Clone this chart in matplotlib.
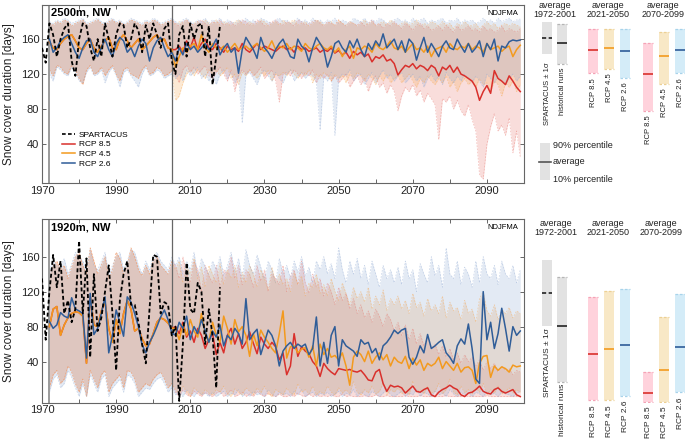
import numpy as np
import matplotlib
matplotlib.use('Agg')
import matplotlib.pyplot as plt
from matplotlib.lines import Line2D

plt.rcParams['font.family'] = ['Liberation Sans', 'DejaVu Sans']

years_obs = np.arange(1970, 2019)
years_sc = np.arange(1972, 2100)   # historical runs 1972-2005, RCP runs 2006-2099

# ---------------- 2500m, NW ----------------
spart_top = [150,133,178,165,140,160,172,178,135,118,160,178,175,150,135,160,140,178,160,140,
             165,178,176,150,160,178,170,145,176,160,178,165,150,172,178,135,120,165,175,140,
             178,160,175,178,140,175,108,140,175]

hist_mean_top = [157,150,148,155,160,163,165,158,150,148,155,160,150,145,152,158,162,150,148,160,
                 165,158,150,155,160,148,152,157,162,165,158,160,150,148]
hist_lo_top = [125,118,130,128,122,120,130,125,115,108,125,130,120,122,128,118,125,130,120,112,
               125,128,120,118,115,125,130,120,122,128,125,118,120,124]
hist_hi_top = [178,176,180,178,182,180,175,178,180,182,176,178,180,182,178,175,180,182,178,180,
               176,178,182,180,178,175,180,178,182,180,176,178,180,182]
blue_hist_mean_top = [160,145,150,158,162,165,155,145,138,150,158,160,145,140,150,160,148,140,155,162,
                      158,145,150,140,152,160,155,135,150,158,162,150,140,145]
blue_hist_lo_top = [120,112,128,125,120,118,128,122,112,110,122,128,118,120,125,110,122,128,118,105,
                    122,125,118,112,105,120,128,118,120,125,122,115,118,120]
blue_hist_hi_top = [180,178,182,180,184,182,178,180,182,184,178,180,182,184,180,178,182,184,180,182,
                    178,180,184,182,180,178,182,180,184,182,178,180,182,184]

rcp85_top = [148,152,145,158,150,162,148,155,160,150, 148,155,150,145,152,148,150,146,155,148,
             145,150,155,148,152,150,148,146,150,152, 148,150,145,152,148,150,146,148,150,145,
             148,146,150,144,147,142,145,138,146,142, 145,140,143,134,140,138,142,135,137,132,
             119,125,130,128,132,126,130,128,124,130, 127,118,128,125,130,122,128,120,118,115,
             112,105,90,100,107,98,124,115,112,108, 118,112,105,100]
rcp85_lo_top = [118,110,125,130,122,128,120,125,130,118, 115,122,128,120,112,125,100,118,125,120,
                125,118,122,128,115,120,125,112,88,120, 122,118,125,120,115,122,118,125,110,120,
                115,120,112,118,110,115,120,105,112,118, 108,115,100,112,118,105,110,98,108,100,
                78,95,105,100,108,95,102,88,98,92, 85,45,92,88,95,80,90,78,72,85,
                68,55,5,0,40,60,75,55,62,50, 70,30,55,25]
rcp85_hi_top = [178,175,180,182,178,176,180,182,178,175, 180,178,182,176,178,180,175,178,182,180,
                176,178,182,180,175,178,180,182,178,176, 180,178,175,182,180,176,178,180,182,178,
                175,180,178,176,182,178,175,180,178,176, 180,175,178,182,176,178,172,178,175,180,
                176,172,178,175,170,176,178,172,175,170, 172,175,170,176,172,168,175,170,172,175,
                170,172,168,175,170,172,168,170,175,168, 172,170,168,172]

rcp45_top = [128,140,150,145,152,155,148,165,150,145, 155,150,148,152,145,150,155,148,150,152,
             148,152,155,150,146,150,158,148,152,150, 155,148,152,150,146,155,150,148,152,155,
             150,148,152,145,150,140,148,152,138,150, 148,152,150,145,155,150,148,152,158,150,
             148,152,145,150,155,148,150,145,152,140, 148,150,152,145,155,150,148,152,150,155,
             148,152,150,145,155,148,150,152,146,150, 152,140,148,153]
rcp45_lo_top = [90,95,110,120,125,118,125,120,115,125, 120,125,118,122,128,115,120,108,122,118,
                125,120,115,122,118,125,112,120,118,122, 118,125,120,115,122,118,125,110,120,115,
                122,118,112,120,115,118,110,120,115,122, 118,112,120,115,108,118,112,120,110,115,
                118,110,115,120,112,105,115,110,118,112, 108,115,110,118,105,112,100,110,115,108,
                112,105,115,108,110,100,112,108,95,110, 105,112,100,108]
rcp45_hi_top = [176,180,178,182,175,178,180,176,182,178, 178,182,176,180,178,175,180,182,178,176,
                180,176,178,182,180,175,178,180,176,182, 178,180,182,176,178,180,175,178,182,180,
                176,178,180,175,182,178,176,180,178,175, 178,182,176,180,175,178,180,176,182,178,
                175,178,180,176,178,182,175,178,176,180, 178,175,180,176,178,172,178,175,180,176,
                175,178,172,176,180,175,178,172,176,178, 175,178,176,174]

rcp26_top = [135,150,142,155,148,152,145,150,155,148, 152,160,142,150,155,145,150,121,148,162,
             155,148,138,162,150,145,138,148,155,160, 150,140,138,160,152,148,134,150,162,155,
             148,128,140,155,158,150,145,158,150,160, 148,140,155,148,158,152,166,150,155,160,
             148,158,145,160,155,136,150,162,145,155, 148,140,152,158,150,148,160,152,145,155,
             145,150,158,140,155,148,160,135,152,150, 157,159,158,159]
rcp26_lo_top = [115,120,112,125,118,122,128,115,120,112, 118,108,120,125,115,122,110,118,64,120,
                122,115,108,120,125,118,112,122,115,110, 120,125,112,118,122,115,120,118,110,56,
                118,112,122,50,115,120,118,125,112,118, 120,108,115,122,110,118,125,115,120,112,
                118,122,110,115,120,112,118,105,115,120, 112,118,108,122,115,110,118,112,120,115,
                110,118,112,105,120,115,110,118,112,108, 115,120,112,118]
rcp26_hi_top = [180,178,182,184,180,178,182,180,184,178, 182,180,184,178,182,180,178,182,180,184,
                180,182,178,184,182,180,178,182,184,180, 182,178,180,184,180,182,178,184,180,182,
                178,182,180,184,178,182,180,178,184,182, 180,184,178,182,180,184,182,178,180,182,
                184,180,182,178,184,180,182,184,178,182, 180,182,184,178,182,180,184,178,182,180,
                182,178,180,184,180,182,178,184,180,182, 184,180,182,183]

# ---------------- 1920m, NW ----------------
spart_bot = [135,65,120,162,125,155,95,110,85,100,178,95,158,45,140,75,90,120,150,95,
             30,110,140,155,105,105,85,60,38,100,162,160,95,108,105,70,80,-5,60,153,
             100,95,130,120,60,100,70,10,125]

hist_mean_bot = [80,100,103,70,82,90,95,97,96,92,38,115,82,80,98,108,78,62,88,72,
                 95,110,100,75,78,66,58,60,72,85,90,88,84,78]
hist_lo_bot = [10,25,30,15,20,35,28,15,5,20,0,30,20,10,25,30,5,15,20,25,
               10,30,28,20,5,10,15,12,20,25,28,20,10,15]
hist_hi_bot = [140,150,155,145,150,135,148,160,165,150,140,170,155,140,150,160,135,145,165,158,
               140,150,170,160,145,138,150,140,155,160,150,145,140,155]
blue_hist_mean_bot = [86,78,82,96,92,90,113,100,98,95,44,118,71,78,95,114,50,70,99,85,
                      69,114,108,95,80,59,50,62,70,80,91,99,88,73]
blue_hist_lo_bot = [5,20,25,10,15,30,22,10,0,15,0,25,15,5,20,25,0,10,15,20,
                    5,25,22,15,0,5,10,8,15,20,22,15,5,10]
blue_hist_hi_bot = [145,155,150,150,158,140,152,165,160,155,145,168,150,145,155,165,140,150,160,165,
                    145,155,168,165,150,140,155,145,160,165,155,150,145,160]

rcp85_bot = [80,72,85,68,75,62,78,70,55,65, 72,48,62,50,70,78,60,72,55,62,
             74,61,49,68,60,55,62,57,42,50, 25,35,72,46,57,52,49,40,35,23,
             38,32,28,25,32,31,30,31,29,28, 30,25,19,18,28,31,15,6,13,11,
             12,10,4,8,12,6,5,8,10,2, 0,5,8,10,13,10,8,2,0,4,
             5,8,12,6,4,3,8,10,6,4, 6,8,2,0]
rcp85_lo_bot = [5,0,8,2,0,6,3,0,5,2, 0,4,6,0,3,8,0,2,5,0,
                3,0,6,2,0,4,1,0,3,0, 0,2,0,4,1,0,3,0,2,0,
                1,0,2,0,0,3,0,1,0,0, 0,1,0,0,2,0,0,1,0,0,
                0,0,1,0,0,0,1,0,0,0, 0,0,0,1,0,0,0,0,1,0,
                0,0,0,0,1,0,0,0,0,0, 0,0,0,0]
rcp85_hi_bot = [150,135,160,140,130,155,145,120,150,138, 130,150,125,145,140,160,135,150,128,145,
                140,125,150,132,145,120,140,135,128,150, 120,138,145,128,155,130,118,140,125,135,
                115,130,120,105,125,110,118,100,112,95, 105,90,98,85,100,92,80,95,88,75,
                85,70,82,65,78,60,72,58,68,55, 60,48,58,45,55,42,50,38,48,40,
                45,35,42,30,40,32,38,28,35,30, 32,25,30,28]

rcp45_bot = [78,65,82,70,88,75,68,95,72,62, 85,70,62,92,78,60,88,74,80,70,
             46,72,58,76,68,62,55,50,72,98, 44,57,58,50,54,56,45,58,35,60,
             48,55,45,47,42,50,35,13,45,52, 48,40,52,38,45,50,42,48,35,45,
             40,38,46,32,44,36,42,30,38,35, 38,45,32,40,35,30,38,28,33,34,
             30,15,38,46,47,22,35,30,34,32, 28,36,34,35]
rcp45_lo_bot = [8,3,12,5,0,10,6,2,8,4, 2,8,5,12,3,0,9,5,2,10,
                6,2,10,4,12,3,0,8,5,2, 10,4,2,15,5,8,3,12,2,6,
                3,12,5,2,10,4,8,3,18,5, 2,8,4,12,3,6,15,2,8,5,
                10,3,6,2,18,5,8,3,12,4, 6,15,3,8,20,5,2,12,4,8,
                3,10,5,15,2,8,4,12,3,6, 10,4,8,5]
rcp45_hi_bot = [145,155,130,150,140,158,135,148,125,150, 140,130,152,128,145,135,150,125,142,130,
                150,140,125,145,135,122,148,130,140,128, 135,120,142,128,138,115,130,125,140,118,
                128,115,135,120,110,130,118,105,125,112, 120,108,125,100,115,105,122,98,112,105,
                115,100,110,95,118,102,108,92,112,98, 105,95,115,90,108,98,102,88,110,95,
                100,85,112,120,98,92,105,88,100,95, 102,90,98,95]

rcp26_bot = [70,85,78,92,65,80,72,88,75,62, 75,68,82,58,70,65,78,72,60,112,
             65,72,77,48,62,76,70,58,35,52, 58,62,55,60,57,60,48,55,91,35,
             62,38,70,80,35,65,58,55,52,46, 65,60,62,50,55,42,58,62,68,76,
             72,76,78,45,37,45,58,50,71,55, 58,62,65,50,45,38,58,66,60,83,
             55,20,15,120,65,85,55,72,101,78, 52,80,70,75]
rcp26_lo_bot = [2,5,0,8,3,0,6,2,4,0, 5,0,3,6,0,4,2,8,0,5,
                0,6,2,4,0,8,3,0,5,2, 4,0,6,2,8,0,3,5,0,4,
                2,5,0,3,6,0,4,2,8,0, 5,2,0,6,3,0,4,8,2,0,
                3,6,0,4,2,8,0,5,3,0, 6,2,4,0,8,3,0,5,2,4,
                0,5,3,0,6,2,4,0,5,3, 2,0,4,6]
rcp26_hi_bot = [150,160,140,155,145,165,138,158,148,140, 155,145,160,138,150,165,142,158,135,168,
                150,140,162,148,135,155,145,130,158,140, 150,135,155,142,160,138,148,130,155,145,
                160,140,152,135,170,145,130,155,140,158, 135,150,128,155,140,125,150,135,145,130,
                148,128,155,135,145,120,152,140,130,160, 138,150,125,170,140,135,155,128,148,140,
                125,155,130,160,140,135,150,128,155,140, 135,150,130,145]

# ---------------- period averages (right-hand bars) ----------------
bar_labels = ['SPARTACUS ± 1σ', 'historical runs', 'RCP 8.5', 'RCP 4.5', 'RCP 2.6',
              'RCP 8.5', 'RCP 4.5', 'RCP 2.6']
bars_top_lo = [142.5, 132, 121, 126, 116, 78, 109, 121]
bars_top_mean = [161, 156, 148, 150, 146, 120, 141, 148]
bars_top_hi = [180, 177, 172, 172, 172, 155, 168, 172]
bars_bot_lo = [81, 17, -4, -4, 1, -6, -6, 5]
bars_bot_mean = [119, 81, 48.5, 54.5, 59, 4, 30.5, 57]
bars_bot_hi = [156, 137, 114, 121, 123, 28, 91, 117]
period_titles = ['average\n1972-2001', 'average\n2021-2050', 'average\n2070-2099']

# styles
c_line = {'85': '#d9302c', '45': '#f39a1e', '26': '#2f5d98'}
c_fill = {'85': '#e87a72', '45': '#f7aa55', '26': '#93acd4'}
bar_fill = ['#e2e2e2', '#e2e2e2', '#ffd2dc', '#f8e8c6', '#d4ecf8', '#ffd2dc', '#f8e8c6', '#d4ecf8']
bar_cap = ['none', '#b5b5b5', '#f4a3b6', '#ecd095', '#a8d3ea', '#f4a3b6', '#ecd095', '#a8d3ea']
bar_mean_c = ['#222222', '#222222', '#d9302c', '#f39a1e', '#2f5d98', '#d9302c', '#f39a1e', '#2f5d98']
bar_x = [546.5, 562.3, 593.3, 609, 625.3, 647.7, 664, 680]
W, H = 685, 442

fig = plt.figure(figsize=(6.85, 4.42), dpi=100)


def fpos(x0, y0, x1, y1):
    return [x0 / W, 1 - y1 / H, (x1 - x0) / W, (y1 - y0) / H]


def draw_main(ax, spart, scen, title, ylim, legend=False):
    for key, mean, lo, hi in scen:
        ax.fill_between(years_sc, lo, hi, color=c_fill[key], alpha=0.25, lw=0, zorder=1)
        for edge in (lo, hi):
            ax.plot(years_sc, edge, color=c_fill[key], lw=0.5, ls=(0, (2.5, 2)), alpha=0.5, zorder=1.5)
    ax.axvline(1972, color='#9a9a9a', lw=1.4, zorder=2)
    ax.axvline(2005, color='#666666', lw=0.9, zorder=2)
    handles = [Line2D([], [], color='k', lw=1.2, ls=(0, (2.2, 1.4)))]
    for key, mean, lo, hi in scen:
        h, = ax.plot(years_sc, mean, color=c_line[key], lw=1.1, zorder=3)
        handles.append(h)
    ax.plot(years_obs, spart, color='k', lw=1.3, ls=(0, (2.2, 1.4)), zorder=4)
    ax.set_xlim(1970, 2100)
    ax.set_ylim(*ylim)
    ax.set_xticks(np.arange(1970, 2100, 10))
    ax.set_xticklabels([str(y) if (y - 1970) % 20 == 0 else '' for y in range(1970, 2100, 10)])
    ax.set_yticks([40, 80, 120, 160])
    ax.tick_params(direction='in', length=3, width=0.7, color='#666666', top=True, right=True,
                   labelsize=8, labelcolor='#222222', pad=2)
    for s in ax.spines.values():
        s.set_color('#666666')
        s.set_linewidth(0.8)
    ax.set_ylabel('Snow cover duration [days]', fontsize=8.5, color='#222222', labelpad=4)
    ax.text(0.019, 0.958, title, transform=ax.transAxes, fontsize=8, fontweight='bold',
            va='center', ha='left')
    ax.text(0.988, 0.955, 'NDJFMA', transform=ax.transAxes, fontsize=5.5, va='center', ha='right')
    if legend:
        ax.legend(handles, ['SPARTACUS', 'RCP 8.5', 'RCP 4.5', 'RCP 2.6'], loc='lower left',
                  bbox_to_anchor=(0.03, 0.05), frameon=False, fontsize=6, handlelength=1.5,
                  labelspacing=0.25, handletextpad=0.5, borderpad=0.2)


def draw_bars(ax, lo, mean, hi, ylim, gaps, fs):
    ax.set_xlim(530, 685)
    ax.set_ylim(*ylim)
    ax.axis('off')
    for i in range(len(bar_x)):
        ax.bar(bar_x[i], hi[i] - lo[i], bottom=lo[i], width=10, color=bar_fill[i], lw=0)
        if bar_cap[i] != 'none':
            ax.hlines([lo[i], hi[i]], bar_x[i] - 5, bar_x[i] + 5, colors=bar_cap[i], lw=0.9,
                      linestyles=(0, (2, 1.6)))
        ls = (0, (2.5, 1.5)) if i == 0 else '-'
        ax.hlines(mean[i], bar_x[i] - 5, bar_x[i] + 5, colors=bar_mean_c[i], lw=1.2, linestyles=ls)
        ax.annotate(bar_labels[i], xy=(bar_x[i], lo[i]), xytext=(0.5, -gaps[i]),
                    textcoords='offset points', rotation=90, ha='center', va='top',
                    fontsize=fs, color='#222222', annotation_clip=False)


top_ylim = (-4.5, 199)
bot_ylim = (-7, 202.7)

ax1 = fig.add_axes(fpos(42, 5, 524, 183))
draw_main(ax1, spart_top,
          [('85', hist_mean_top + rcp85_top, hist_lo_top + rcp85_lo_top, hist_hi_top + rcp85_hi_top),
           ('45', hist_mean_top + rcp45_top, hist_lo_top + rcp45_lo_top, hist_hi_top + rcp45_hi_top),
           ('26', blue_hist_mean_top + rcp26_top, blue_hist_lo_top + rcp26_lo_top,
            blue_hist_hi_top + rcp26_hi_top)],
          '2500m, NW', top_ylim, legend=True)

ax2 = fig.add_axes(fpos(42, 219.3, 524, 402.7))
draw_main(ax2, spart_bot,
          [('85', hist_mean_bot + rcp85_bot, hist_lo_bot + rcp85_lo_bot, hist_hi_bot + rcp85_hi_bot),
           ('45', hist_mean_bot + rcp45_bot, hist_lo_bot + rcp45_lo_bot, hist_hi_bot + rcp45_hi_bot),
           ('26', blue_hist_mean_bot + rcp26_bot, blue_hist_lo_bot + rcp26_lo_bot,
            blue_hist_hi_bot + rcp26_hi_bot)],
          '1920m, NW', bot_ylim)

ax3 = fig.add_axes(fpos(530, 5, 685, 183))
draw_bars(ax3, bars_top_lo, bars_top_mean, bars_top_hi, top_ylim,
          [5.5, 3, 3.5, 3.5, 3.5, 3.5, 3.5, 3.5], 5.5)
ax4 = fig.add_axes(fpos(530, 219.3, 685, 402.7))
draw_bars(ax4, bars_bot_lo, bars_bot_mean, bars_bot_hi, bot_ylim,
          [1.5, 1.5, 3.5, 3.5, 3.5, 3.5, 3.5, 3.5], 6)

for xc, t in zip([555, 608, 663], period_titles):
    fig.text(xc / W, 1 - 10 / H, t, ha='center', va='center', fontsize=6.5, linespacing=0.95,
             color='#222222')
for xc, t in zip([556, 608, 661], period_titles):
    fig.text(xc / W, 1 - 228 / H, t, ha='center', va='center', fontsize=6.5, linespacing=0.95,
             color='#222222')

# percentile key
axk = fig.add_axes(fpos(540, 143, 550, 180))
axk.set_xlim(0, 1)
axk.set_ylim(0, 1)
axk.axis('off')
axk.add_patch(plt.Rectangle((0, 0), 1, 1, color='#e2e2e2', lw=0))
axk.plot([-0.15, 1.05], [0.5, 0.5], color='#555555', lw=1.2, clip_on=False)
for yy, t in [(146, '90% percentile'), (162, 'average'), (179, '10% percentile')]:
    fig.text(553 / W, 1 - yy / H, t, ha='left', va='center', fontsize=6.5, color='#222222')

fig.savefig('out.png', dpi=100)
